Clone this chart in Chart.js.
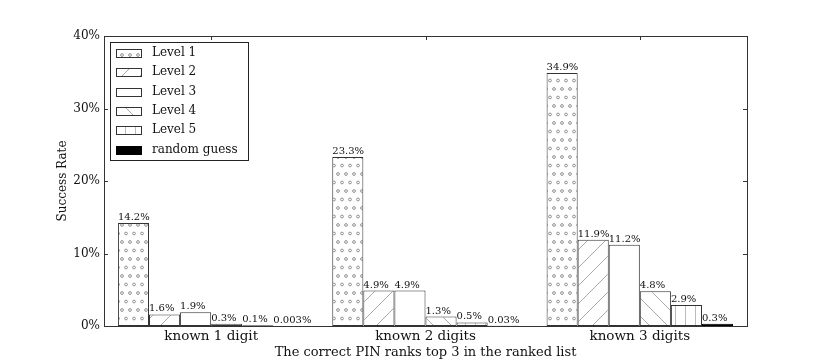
<!DOCTYPE html>
<html>
<head>
<meta charset="utf-8">
<script src="https://cdn.jsdelivr.net/npm/chart.js@4/dist/chart.umd.min.js"></script>
<style>
  html, body { margin: 0; padding: 0; background: #fff; }
  #wrap { width: 830px; height: 363px; }
</style>
</head>
<body>
<div id="wrap"><canvas id="pinChart" width="830" height="363"></canvas></div>
<script>
// data
var categories = ['known 1 digit', 'known 2 digits', 'known 3 digits'];
var level1 = [14.2, 23.3, 34.9];
var level2 = [1.6, 4.9, 11.9];
var level3 = [1.9, 4.9, 11.2];
var level4 = [0.3, 1.3, 4.8];
var level5 = [0.1, 0.5, 2.9];
var randomGuess = [0.003, 0.03, 0.3];
var seriesNames = ['Level 1', 'Level 2', 'Level 3', 'Level 4', 'Level 5', 'random guess'];
var yTicks = [0, 10, 20, 30, 40];

var FONT = "'DejaVu Serif', serif";
var EDGE = '#333';

function makePattern(kind) {
    var c = document.createElement('canvas');
    var ctx = c.getContext('2d');
    if (kind == 'dots') {
        c.width = 8; c.height = 17;
        ctx.fillStyle = '#fff'; ctx.fillRect(0, 0, 8, 17);
        ctx.strokeStyle = '#777'; ctx.lineWidth = 0.8;
        ctx.beginPath(); ctx.arc(2, 4, 1.4, 0, Math.PI * 2); ctx.stroke();
        ctx.beginPath(); ctx.arc(6, 12.5, 1.4, 0, Math.PI * 2); ctx.stroke();
    } else if (kind == 'slash' || kind == 'back') {
        var n = 18;
        c.width = n; c.height = n;
        ctx.fillStyle = '#fff'; ctx.fillRect(0, 0, n, n);
        ctx.strokeStyle = '#aaa'; ctx.lineWidth = 1;
        ctx.beginPath();
        if (kind == 'slash') {
            ctx.moveTo(-1, n + 1); ctx.lineTo(n + 1, -1);
        } else {
            ctx.moveTo(-1, -1); ctx.lineTo(n + 1, n + 1);
        }
        ctx.stroke();
    } else if (kind == 'vert') {
        c.width = 10; c.height = 10;
        ctx.fillStyle = '#fff'; ctx.fillRect(0, 0, 10, 10);
        ctx.strokeStyle = '#bbb'; ctx.lineWidth = 1;
        ctx.beginPath(); ctx.moveTo(5.5, 0); ctx.lineTo(5.5, 10); ctx.stroke();
    } else {
        return '#fff';
    }
    return document.getElementById('pinChart').getContext('2d').createPattern(c, 'repeat');
}

var fills = [makePattern('dots'), makePattern('slash'), '#fff', makePattern('back'), makePattern('vert'), '#000'];
var values = [level1, level2, level3, level4, level5, randomGuess];

var datasets = [];
for (var i = 0; i < values.length; i++) {
    datasets.push({
        label: seriesNames[i],
        data: values[i],
        backgroundColor: fills[i],
        borderColor: i == 5 ? '#000' : EDGE,
        borderWidth: 1,
        borderSkipped: false,
        categoryPercentage: 0.87,
        barPercentage: 1.0
    });
}

// value labels, frame, inward ticks and the legend box
var decorations = {
    id: 'decorations',
    afterDatasetsDraw: function (chart) {
        var ctx = chart.ctx;
        ctx.save();
        ctx.font = '10px ' + FONT;
        ctx.fillStyle = '#111';
        ctx.textAlign = 'left';
        ctx.textBaseline = 'bottom';
        chart.data.datasets.forEach(function (ds, di) {
            var meta = chart.getDatasetMeta(di);
            meta.data.forEach(function (bar, k) {
                ctx.fillText(ds.data[k] + '%', bar.x - bar.width / 2, bar.y - 0.5);
            });
        });
        ctx.restore();
    },
    afterDraw: function (chart) {
        var ctx = chart.ctx;
        var a = chart.chartArea;
        var ys = chart.scales.y, xs = chart.scales.x;
        ctx.save();
        ctx.strokeStyle = EDGE;
        ctx.lineWidth = 1;
        ctx.strokeRect(Math.round(a.left) + 0.5, Math.round(a.top) + 0.5,
                       Math.round(a.right - a.left), Math.round(a.bottom - a.top));
        ctx.beginPath();
        yTicks.forEach(function (v) {
            var y = Math.round(ys.getPixelForValue(v)) + 0.5;
            ctx.moveTo(a.left, y); ctx.lineTo(a.left + 4, y);
            ctx.moveTo(a.right, y); ctx.lineTo(a.right - 4, y);
        });
        categories.forEach(function (c, k) {
            var x = Math.round(xs.getPixelForValue(k)) + 0.5;
            ctx.moveTo(x, a.top); ctx.lineTo(x, a.top + 4);
        });
        ctx.stroke();

        // legend
        var lx = 110, ly = 42, lw = 138, lh = 118;
        ctx.fillStyle = '#fff';
        ctx.fillRect(lx, ly, lw, lh);
        ctx.strokeStyle = '#222';
        ctx.strokeRect(lx + 0.5, ly + 0.5, lw, lh);
        ctx.font = '12px ' + FONT;
        ctx.textAlign = 'left';
        ctx.textBaseline = 'middle';
        chart.data.datasets.forEach(function (ds, di) {
            var cy = 53 + di * 19.3;
            ctx.fillStyle = ds.backgroundColor;
            ctx.fillRect(116, Math.round(cy - 4), 26, 8);
            ctx.strokeStyle = ds.borderColor;
            ctx.strokeRect(116.5, Math.round(cy - 4) + 0.5, 25, 8);
            ctx.fillStyle = '#111';
            ctx.fillText(ds.label, 152, cy);
        });
        ctx.restore();
    }
};

var barChart = new Chart(document.getElementById('pinChart'), {
    type: 'bar',
    data: { labels: categories, datasets: datasets },
    options: {
        responsive: false,
        animation: false,
        devicePixelRatio: 1,
        layout: { padding: { top: 36, right: 83, left: 0, bottom: 0 } },
        plugins: {
            legend: { display: false },
            tooltip: { enabled: false }
        },
        scales: {
            x: {
                grid: { display: false, drawTicks: false },
                border: { display: false },
                ticks: { padding: 2, color: '#111', font: { family: FONT, size: 13.5 } },
                title: {
                    display: true,
                    text: 'The correct PIN ranks top 3 in the ranked list',
                    color: '#111',
                    font: { family: FONT, size: 13 },
                    padding: { top: 0, bottom: 3 }
                },
                afterFit: function (s) { s.height = 37; }
            },
            y: {
                min: 0,
                max: 40,
                grid: { display: false, drawTicks: false },
                border: { display: false },
                ticks: {
                    stepSize: 10,
                    padding: 4,
                    color: '#111',
                    font: { family: FONT, size: 12 },
                    callback: function (v) { return v + '%'; }
                },
                title: {
                    display: true,
                    text: 'Success Rate',
                    color: '#111',
                    font: { family: FONT, size: 12 },
                    padding: { top: 56, bottom: 0 }
                },
                afterFit: function (s) { s.width = 104; }
            }
        }
    },
    plugins: [decorations]
});
</script>
</body>
</html>
